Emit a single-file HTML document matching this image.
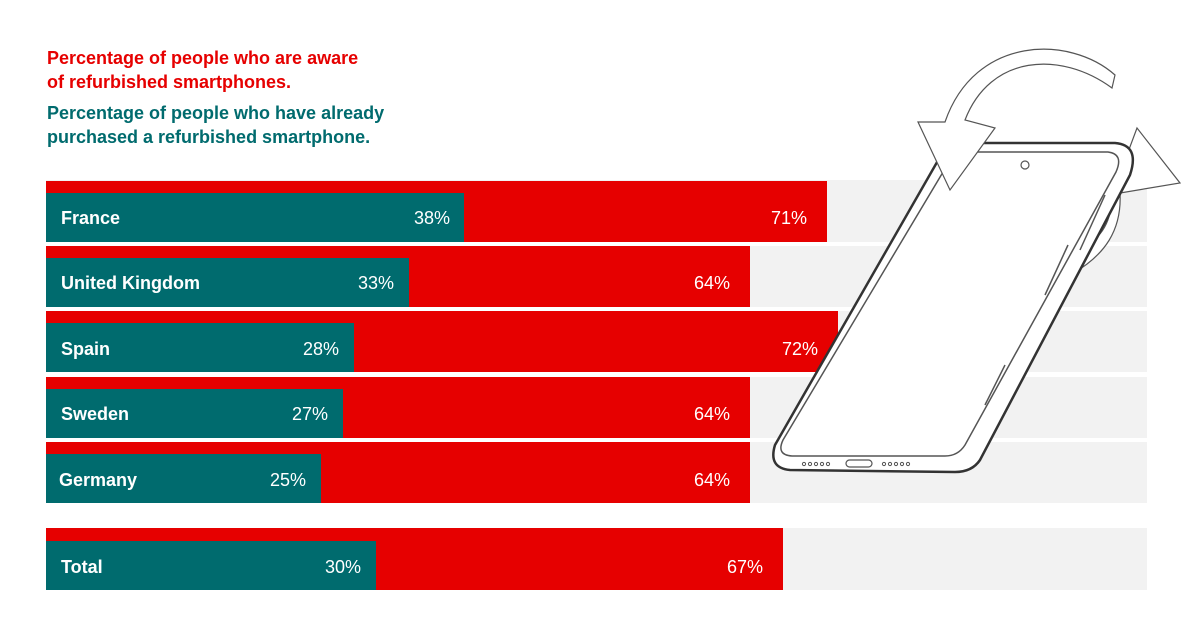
<!DOCTYPE html>
<html><head><meta charset="utf-8"><style>
body{margin:0;width:1200px;height:634px;background:#fff;position:relative;overflow:hidden;font-family:"Liberation Sans",sans-serif}
.t{position:absolute;left:47px;font-weight:bold;font-size:18px;line-height:24px}
.g{position:absolute;left:46px;width:1101px;background:#f2f2f2}
.r{position:absolute;left:46px;background:#e60000}
.b{position:absolute;left:46px;background:#006b6e}
.l{position:absolute;color:#fff;font-size:18px;line-height:20px}
.n{font-weight:bold;left:61px}
</style></head><body>
<div class="t" style="top:46px;color:#e60000">Percentage of people who are aware<br>of refurbished smartphones.</div>
<div class="t" style="top:101px;color:#006b6e">Percentage of people who have already<br>purchased a refurbished smartphone.</div>

<div class="g" style="top:180px;height:62px"></div>
<div class="g" style="top:246px;height:61px"></div>
<div class="g" style="top:311px;height:61px"></div>
<div class="g" style="top:377px;height:61px"></div>
<div class="g" style="top:442px;height:61px"></div>
<div class="g" style="top:528px;height:62px"></div>

<div class="r" style="top:181px;height:61px;width:781px"></div>
<div class="b" style="top:193px;height:49px;width:418px"></div>
<div class="l n" style="top:208px">France</div><div class="l" style="top:208px;left:414px">38%</div><div class="l" style="top:208px;left:771px">71%</div>

<div class="r" style="top:246px;height:61px;width:704px"></div>
<div class="b" style="top:258px;height:49px;width:363px"></div>
<div class="l n" style="top:273px">United Kingdom</div><div class="l" style="top:273px;left:358px">33%</div><div class="l" style="top:273px;left:694px">64%</div>

<div class="r" style="top:311px;height:61px;width:792px"></div>
<div class="b" style="top:323px;height:49px;width:308px"></div>
<div class="l n" style="top:339px">Spain</div><div class="l" style="top:339px;left:303px">28%</div><div class="l" style="top:339px;left:782px">72%</div>

<div class="r" style="top:377px;height:61px;width:704px"></div>
<div class="b" style="top:389px;height:49px;width:297px"></div>
<div class="l n" style="top:404px">Sweden</div><div class="l" style="top:404px;left:292px">27%</div><div class="l" style="top:404px;left:694px">64%</div>

<div class="r" style="top:442px;height:61px;width:704px"></div>
<div class="b" style="top:454px;height:49px;width:275px"></div>
<div class="l n" style="top:470px;left:59px">Germany</div><div class="l" style="top:470px;left:270px">25%</div><div class="l" style="top:470px;left:694px">64%</div>

<div class="r" style="top:528px;height:62px;width:737px"></div>
<div class="b" style="top:541px;height:49px;width:330px"></div>
<div class="l n" style="top:557px">Total</div><div class="l" style="top:557px;left:325px">30%</div><div class="l" style="top:557px;left:727px">67%</div>

<svg style="position:absolute;left:0;top:0" width="1200" height="634">
<g fill="#fff" stroke="#555" stroke-width="1.2">
<path d="M1072,274 C1105,255 1122,230 1120,193 L1180,183 L1137,128 L1112,195 C1112,225 1098,240 1082,248 Z"/>
<path d="M948,143 L1115,143 Q1140,145 1130,175 L980,460 Q972,472 955,472 L790,470 Q768,468 775,445 Z" stroke="#333" stroke-width="2.5"/>
<path d="M955,152 L1108,152 Q1124,154 1116,172 L965,445 Q958,456 945,456 L792,456 Q776,455 783,440 Z" stroke-width="1.5"/>
<path d="M1112,88 C1060,50 990,55 965,120 L995,128 L950,190 L918,122 L945,122 C975,35 1070,35 1115,75 Z"/>
<circle cx="1025" cy="165" r="4"/>
<rect x="846" y="460" width="26" height="7" rx="3.5"/>
</g>
<g fill="none" stroke="#555" stroke-width="1.5">
<path d="M1105,195 L1080,250"/><path d="M1068,245 L1045,295"/><path d="M1005,365 L985,405"/>
</g>
<g fill="none" stroke="#555" stroke-width="1"><circle cx="804" cy="464" r="1.6"/><circle cx="810" cy="464" r="1.6"/><circle cx="816" cy="464" r="1.6"/><circle cx="822" cy="464" r="1.6"/><circle cx="828" cy="464" r="1.6"/><circle cx="884" cy="464" r="1.6"/><circle cx="890" cy="464" r="1.6"/><circle cx="896" cy="464" r="1.6"/><circle cx="902" cy="464" r="1.6"/><circle cx="908" cy="464" r="1.6"/></g>
</svg>
</body></html>
